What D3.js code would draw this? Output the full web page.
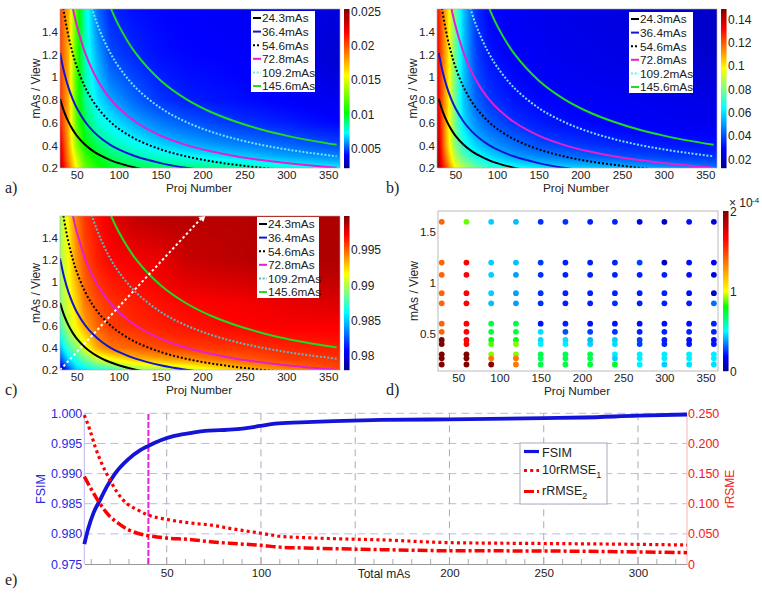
<!DOCTYPE html>
<html><head><meta charset="utf-8">
<script src="https://cdn.jsdelivr.net/npm/d3@7/dist/d3.min.js"></script>
<style>
html,body{margin:0;padding:0;background:#fff}
svg{display:block}
text{font-family:"Liberation Sans",Arial,sans-serif;fill:#222}
</style></head><body><svg id="c" width="762" height="594"></svg>
<script>
// ---------- data ----------
const fieldProj=[30,40,50,60,75,90,120,150,180,240,300,360];
const fieldView=[0.2,0.3,0.4,0.6,0.8,1.2,1.6];
const fieldA=[
[.0240,.0195,.0155,.0125,.0108,.0100,.0094,.0092,.0090,.0085,.0078,.0072],
[.0235,.0185,.0145,.0115,.0100,.0092,.0084,.0078,.0074,.0068,.0062,.0058],
[.0230,.0180,.0130,.0105,.0092,.0084,.0075,.0068,.0064,.0058,.0054,.0050],
[.0215,.0175,.0120,.0095,.0078,.0072,.0062,.0056,.0052,.0047,.0044,.0041],
[.0210,.0175,.0115,.0085,.0070,.0062,.0053,.0047,.0044,.0042,.0040,.0038],
[.0205,.0175,.0115,.0080,.0062,.0050,.0045,.0042,.0041,.0040,.0038,.0033],
[.0205,.0175,.0115,.0080,.0054,.0045,.0042,.0041,.0040,.0039,.0037,.0035]];
const fieldB=[
[.144,.120,.098,.088,.078,.072,.066,.062,.060,.056,.051,.046],
[.142,.112,.088,.076,.066,.060,.052,.048,.045,.041,.038,.036],
[.140,.106,.082,.068,.058,.052,.045,.040,.038,.035,.033,.032],
[.136,.105,.078,.060,.048,.042,.036,.033,.031,.029,.028,.027],
[.132,.105,.078,.056,.043,.037,.032,.030,.029,.028,.027,.026],
[.130,.105,.078,.056,.038,.032,.029,.028,.027,.026,.024,.022],
[.128,.105,.078,.056,.036,.030,.028,.027,.026,.025,.023,.021]];
const fieldC=[
[.9785,.982,.985,.9855,.9865,.987,.989,.9895,.990,.9925,.994,.9955],
[.982,.9855,.987,.9885,.9905,.9915,.993,.9935,.994,.995,.9958,.996],
[.9845,.9875,.989,.991,.9935,.9945,.995,.9955,.9958,.996,.9963,.9965],
[.9875,.990,.992,.9935,.995,.9958,.9962,.9965,.9967,.997,.9972,.9972],
[.989,.991,.9925,.9945,.9955,.996,.9965,.9968,.997,.9972,.9975,.9978],
[.9895,.9915,.994,.9955,.9965,.997,.9972,.9975,.9982,.9985,.9988,.9988],
[.9895,.992,.9945,.996,.9968,.9975,.9984,.9986,.9986,.9986,.9988,.9988]];
const isoLabels=["24.3mAs","36.4mAs","54.6mAs","72.8mAs","109.2mAs","145.6mAs"];
const isoProj=[30,35,40,45,50,60,70,80,90,100,120,150,180,210,240,270,300,330,360];
const iso243=[.81,.694,.608,.54,.486,.405,.347,.304,.27,.243,.203,.162,.135,.116,.101,.09,.081,.074,.068];
const iso364=[1.213,1.04,.91,.809,.728,.607,.52,.455,.404,.364,.303,.243,.202,.173,.152,.135,.121,.11,.101];
const iso546=[1.82,1.56,1.365,1.213,1.092,.91,.78,.683,.607,.546,.455,.364,.303,.26,.228,.202,.182,.165,.152];
const iso728=[2.427,2.08,1.82,1.618,1.456,1.213,1.04,.91,.809,.728,.607,.485,.404,.347,.303,.27,.243,.221,.202];
const iso1092=[3.64,3.12,2.73,2.427,2.184,1.82,1.56,1.365,1.213,1.092,.91,.728,.607,.52,.455,.404,.364,.331,.303];
const iso1456=[4.853,4.16,3.64,3.236,2.912,2.427,2.08,1.82,1.618,1.456,1.213,.971,.809,.693,.607,.539,.485,.441,.404];
const diagProj=[30,201], diagView=[0.2,1.6];
const dotProj=[30,60,90,120,150,180,210,240,270,300,330,360];
const dotView=[1.6,1.2,1.08,.9,.8,.6,.52,.44,.4,.3,.26,.2];
const dotVal=[
[1.4,.88,.44,.42,.24,.24,.22,.22,.16,.08,.2,.14],
[1.4,1.66,.44,.42,.25,.22,.22,.22,.26,.08,.2,.15],
[1.4,1.66,.44,.38,.24,.22,.22,.22,.22,.22,.2,.12],
[1.4,1.66,.44,.38,.24,.22,.22,.22,.22,.22,.2,.11],
[1.4,1.66,.42,.38,.24,.22,.22,.24,.22,.22,.22,.32],
[1.4,1.66,.72,.72,.2,.22,.2,.2,.2,.2,.2,.22],
[1.4,1.66,.72,.72,.46,.28,.26,.24,.22,.22,.22,.22],
[2,1.66,.78,.78,.46,.46,.42,.44,.26,.22,.2,.2],
[2,1.66,.86,.9,.48,.48,.44,.46,.26,.22,.2,.2],
[2,2,.9,.9,.72,.7,.72,.48,.48,.48,.48,.48],
[2,2,1.35,1.35,.7,.7,.7,.44,.48,.48,.48,.48],
[2,2,2,1.35,.72,.72,.74,.76,.48,.44,.46,.46]];
const fsimX=[6.3,8.4,11.1,14.6,18.2,22.6,29.7,36,40.3,46.5,53.6,62.4,70.4,78.3,88.9,99.6,107.5,121,138.5,164,200,250,271,300,326];
const fsimY=[.9783,.9809,.9834,.9856,.9878,.99,.9924,.9939,.9946,.9955,.9962,.9967,.9971,.9972,.9974,.9979,.9983,.9985,.9987,.9989,.999,.9992,.9993,.9996,.9998];
const rmseX=[6.3,9.3,12,15.5,20,23.5,29,34.5,40.3,50,61,73,85.5,100,110,124,138.5,164,200,250,300,326];
const rmse1Y=[.247,.222,.195,.167,.139,.12,.1,.09,.081,.074,.0686,.0647,.058,.051,.046,.0437,.042,.04,.0354,.034,.0326,.0315];
const rmse2X=[6.3,9.3,14.6,20,24.4,29,34.5,40.3,50,61,73,85.5,100,110,124,138.5,164,200,250,300,326];
const rmse2Y=[.145,.128,.1,.0785,.0675,.058,.051,.047,.043,.041,.037,.034,.031,.028,.0265,.0254,.0238,.022,.0216,.02,.0188];
const leftTicks=[.975,.98,.985,.99,.995,1];
const rightTicks=[0,.05,.1,.15,.2,.25];
const bottomTicks=[50,100,150,200,250,300];
const bottomLabels=[50,100,200,250,300];
// ---------- helpers ----------
const svg=d3.select("#c");
const jetStops=[[0,"#00008f"],[.125,"#0000ff"],[.375,"#00ffff"],[.625,"#ffff00"],[.875,"#ff0000"],[1,"#800000"]];
const jetA=[[0,"#00008f"],[.08,"#0000ff"],[.22,"#00ffff"],[.35,"#00ff00"],[.58,"#ffff00"],[.85,"#ff0000"],[1,"#800000"]];
const jetD=[[0,"#00008f"],[.09,"#0000ff"],[.25,"#00ffff"],[.4,"#00ff00"],[.5,"#ffff00"],[.83,"#ff0000"],[1,"#800000"]];
const mkCol=(stops,dom)=>d3.scaleLinear().domain(stops.map(d=>dom[0]+d[0]*(dom[1]-dom[0]))).range(stops.map(d=>d[1])).clamp(true);
const isoColors=["#000","#1414d2","#000","#e41fd2","#6fe6f0","#1fdc1f"];
const isoDash=[null,null,"2 2",null,"2 1.7",null];
const isoData=[iso243,iso364,iso546,iso728,iso1092,iso1456];
function panelLetter(t,x,y){svg.append("text").attr("x",x).attr("y",y).style("font-family","'Liberation Serif',serif").style("font-size","16px").text(t);}
function axisStyle(g){g.select(".domain").attr("stroke","#999");g.selectAll("line").attr("stroke","#999");g.selectAll("text").style("font-size","11.6px").attr("fill","#222");}
function heat(opt){
 const {x0,x1,y0,y1,xd,field,stops,dom,cbx,cbw,cbTicks,legend}=opt;
 const xS=d3.scaleLinear().domain(xd).range([x0,x1]);
 const yS=d3.scaleLinear().domain([.2,1.6]).range([y1,y0]);
 const col=mkCol(stops,dom);
 const lx=d3.scaleLinear().domain(fieldProj.map(Math.log)).range(d3.range(fieldProj.length)).clamp(true);
 const ly=d3.scaleLinear().domain(fieldView.map(Math.log)).range(d3.range(fieldView.length)).clamp(true);
 const w=x1-x0,h=y1-y0;
 const cv=document.createElement("canvas");cv.width=w;cv.height=h;const ctx=cv.getContext("2d");
 for(let i=0;i<w;i++)for(let j=0;j<h;j++){
  const p=Math.max(30,xS.invert(x0+i+.5)),v=yS.invert(y0+j+.5);
  const a=lx(Math.log(p)),b=ly(Math.log(v));
  const a0=Math.min(Math.floor(a),fieldProj.length-2),b0=Math.min(Math.floor(b),fieldView.length-2);
  const fa=a-a0,fb=b-b0;
  const val=(1-fb)*((1-fa)*field[b0][a0]+fa*field[b0][a0+1])+fb*((1-fa)*field[b0+1][a0]+fa*field[b0+1][a0+1]);
  ctx.fillStyle=col(val);ctx.fillRect(i,j,1,1);
 }
 svg.append("image").attr("x",x0).attr("y",y0).attr("width",w).attr("height",h).attr("href",cv.toDataURL());
 const id="clip"+x0+y0;
 svg.append("clipPath").attr("id",id).append("rect").attr("x",x0).attr("y",y0).attr("width",w).attr("height",h);
 const line=d3.line().x((d,i)=>xS(isoProj[i])).y(d=>yS(d)).curve(d3.curveCatmullRom);
 const gl=svg.append("g").attr("clip-path",`url(#${id})`);
 const cols=isoColors.map((c,k)=>opt.diag&&k===4?"#58bcc8":c);
 isoData.forEach((arr,k)=>{
  gl.append("path").attr("d",line(arr)).attr("fill","none").attr("stroke",cols[k]).attr("stroke-width",2).attr("stroke-dasharray",isoDash[k]);
 });
 if(opt.diag){
  gl.append("path").attr("d",d3.line().x((d,i)=>xS(diagProj[i])).y(d=>yS(d))(diagView)).attr("fill","none").attr("stroke","#fff").attr("stroke-width",2).attr("stroke-dasharray","2.5 2.5");
  const ex=xS(diagProj[1]),ey=yS(diagView[1]);
  svg.append("path").attr("d",`M${ex+2},${ey} L${ex-5},${ey+1} L${ex},${ey+6} Z`).attr("fill","#fff");
 }
 svg.append("rect").attr("x",x0).attr("y",y0).attr("width",w).attr("height",h).attr("fill","none").attr("stroke","#aaa").attr("stroke-width",.6);
 axes(xS,yS,x0,x1,y0,y1,[.2,.4,.6,.8,1,1.2,1.4]);
 const cb=d3.scaleLinear().domain(dom).range([y1,y0]);
 svg.append("g").selectAll("rect").data(d3.range(y0,y1)).join("rect").attr("x",cbx).attr("y",d=>d).attr("width",cbw).attr("height",1.2).attr("fill",d=>col(cb.invert(d+.5)));
 cbTicks.forEach(t=>svg.append("text").attr("x",cbx+cbw+1.5).attr("y",cb(t)+4.5).style("font-size","12px").text(d3.format("~g")(t)));
 const L=legend;
 svg.append("rect").attr("x",L.x).attr("y",L.y).attr("width",L.w).attr("height",81).attr("fill","#fff");
 isoLabels.forEach((t,k)=>{
  const yy=L.y+7+k*13.6;
  svg.append("line").attr("x1",L.x+2).attr("x2",L.x+10).attr("y1",yy).attr("y2",yy).attr("stroke",cols[k]).attr("stroke-width",2).attr("stroke-dasharray",isoDash[k]);
  svg.append("text").attr("x",L.x+11).attr("y",yy+4.3).style("font-size","11.8px").text(t);
 });
}
function axes(xS,yS,x0,x1,y0,y1,yt){
 const gx=svg.append("g").attr("transform",`translate(0,${y1})`).call(d3.axisBottom(xS).tickValues([50,100,150,200,250,300,350]).tickSize(0).tickPadding(3));
 axisStyle(gx);gx.select(".domain").remove();
 const gy=svg.append("g").attr("transform",`translate(${x0},0)`).call(d3.axisLeft(yS).tickValues(yt).tickFormat(d3.format("~g")).tickSize(0).tickPadding(2));
 axisStyle(gy);gy.select(".domain").remove();
 svg.append("text").attr("x",x0+139).attr("y",y1+24).attr("text-anchor","middle").style("font-size","11.8px").text("Proj Number");
 svg.append("text").attr("transform",`translate(${x0-20},${(y0+y1)/2}) rotate(-90)`).attr("text-anchor","middle").style("font-size","12px").text("mAs / View");
}
// ---------- panels a b c ----------
heat({x0:60,x1:340,y0:9,y1:168,xd:[30,364],field:fieldA,stops:jetA,dom:[.0022,.0253],cbx:344,cbw:5.5,cbTicks:[.005,.01,.015,.02,.025],legend:{x:251,y:11,w:64}});
heat({x0:437,x1:717,y0:9,y1:168,xd:[28,364],field:fieldB,stops:jetStops,dom:[.0126,.1486],cbx:721,cbw:5.5,cbTicks:[.02,.04,.06,.08,.1,.12,.14],legend:{x:629,y:12,w:64}});
heat({x0:60,x1:340,y0:216,y1:370,xd:[30,364],field:fieldC,stops:jetStops,dom:[.978,.9998],cbx:344,cbw:5.5,cbTicks:[.98,.985,.99,.995],legend:{x:257,y:217,w:62},diag:true});
panelLetter("a)",5,193);panelLetter("b)",386,193);panelLetter("c)",5,395);panelLetter("d)",386,395);panelLetter("e)",5,585);
// ---------- panel d ----------
(function(){
 const x0=438,x1=718,y0=211,y1=371;
 const xS=d3.scaleLinear().domain([25.5,365]).range([x0,x1]);
 const yS=d3.scaleLinear().domain([.136,1.706]).range([y1,y0]);
 const col=mkCol(jetD,[0,2]);
 svg.append("rect").attr("x",x0).attr("y",y0).attr("width",x1-x0).attr("height",y1-y0).attr("fill","#fff").attr("stroke","#aaa").attr("stroke-width",.8);
 dotVal.forEach((row,i)=>svg.append("g").selectAll("circle").data(row).join("circle").attr("cx",(v,j)=>xS(dotProj[j])).attr("cy",yS(dotView[i])).attr("r",2.9).attr("fill",v=>col(v)));
 axes(xS,yS,x0,x1,y0,y1,[.5,1,1.5]);
 const cb=d3.scaleLinear().domain([0,2]).range([y1,y0]);
 svg.append("g").selectAll("rect").data(d3.range(y0,y1)).join("rect").attr("x",723).attr("y",d=>d).attr("width",5.5).attr("height",1.2).attr("fill",d=>col(cb.invert(d+.5)));
 [0,1,2].forEach(t=>svg.append("text").attr("x",730).attr("y",cb(t)+4.5).style("font-size","12px").text(t));
 svg.append("text").attr("x",729).attr("y",207).style("font-size","12px").text("× 10");
 svg.append("text").attr("x",752).attr("y",203).style("font-size","8px").text("-4");
})();
// ---------- panel e ----------
(function(){
 const x0=84.3,x1=687,y0=413.3,y1=564;
 const xS=d3.scaleLinear().domain([6.3,326]).range([x0,x1]);
 const yL=d3.scaleLinear().domain([.975,1]).range([y1,y0]);
 const yR=d3.scaleLinear().domain([0,.25]).range([y1,y0]);
 leftTicks.slice(1).forEach(t=>svg.append("line").attr("x1",x0).attr("x2",x1).attr("y1",yL(t)).attr("y2",yL(t)).attr("stroke","#b9b9ee").attr("stroke-dasharray","8 5"));
 bottomTicks.forEach(t=>svg.append("line").attr("x1",xS(t)).attr("x2",xS(t)).attr("y1",y0).attr("y2",y1).attr("stroke","#aab").attr("stroke-dasharray","7 5"));
 const gb=svg.append("g").attr("transform",`translate(0,${y1})`).call(d3.axisBottom(xS).tickValues(bottomLabels).tickSize(0).tickPadding(5));
 axisStyle(gb);
 d3.range(10,326,10).forEach(t=>svg.append("line").attr("x1",xS(t)).attr("x2",xS(t)).attr("y1",y1).attr("y2",y1-(t%50?5:7)).attr("stroke","#aaa"));
 svg.append("line").attr("x1",x0).attr("x2",x0).attr("y1",y0).attr("y2",y1).attr("stroke","#b9b9ee");
 svg.append("line").attr("x1",x1).attr("x2",x1).attr("y1",y0).attr("y2",y1).attr("stroke","#f5b5b5");
 leftTicks.forEach(t=>svg.append("text").attr("x",x0-2).attr("y",yL(t)+4.5).attr("text-anchor","end").style("font-size","12.5px").style("fill","#2a2ae0").text(d3.format(".3f")(t)));
 rightTicks.forEach(t=>svg.append("text").attr("x",x1+1).attr("y",yR(t)+4.5).style("font-size","12.5px").style("fill","#f01818").text(t===0?"0":d3.format(".3f")(t)));
 svg.append("text").attr("transform",`translate(44.5,489) rotate(-90)`).attr("text-anchor","middle").style("font-size","12.5px").style("fill","#2a2ae0").text("FSIM");
 svg.append("text").attr("transform",`translate(733.5,489) rotate(-90)`).attr("text-anchor","middle").style("font-size","12px").style("fill","#f01818").text("rRSME");
 svg.append("text").attr("x",384).attr("y",578).attr("text-anchor","middle").style("font-size","12px").text("Total mAs");
 svg.append("line").attr("x1",xS(40.3)).attr("x2",xS(40.3)).attr("y1",414).attr("y2",y1).attr("stroke","#e81fe0").attr("stroke-width",2).attr("stroke-dasharray","6 2");
 const lf=d3.line().x((d,i)=>xS(fsimX[i])).y(d=>yL(d)).curve(d3.curveMonotoneX);
 svg.append("path").attr("d",lf(fsimY)).attr("fill","none").attr("stroke","#1414d8").attr("stroke-width",3.8);
 const l1=d3.line().x((d,i)=>xS(rmseX[i])).y(d=>yR(d)).curve(d3.curveMonotoneX);
 svg.append("path").attr("d",l1(rmse1Y)).attr("fill","none").attr("stroke","#f00").attr("stroke-width",3.2).attr("stroke-dasharray","3 3.2");
 const l2=d3.line().x((d,i)=>xS(rmse2X[i])).y(d=>yR(d)).curve(d3.curveMonotoneX);
 svg.append("path").attr("d",l2(rmse2Y)).attr("fill","none").attr("stroke","#f00").attr("stroke-width",3.5).attr("stroke-dasharray","10 3 3 3");
 svg.append("rect").attr("x",520).attr("y",443).attr("width",87).attr("height",61).attr("fill","#fff").attr("stroke","#aab");
 const items=[["FSIM","",null,"#1414d8",451.5],["10rRMSE","1","3 3.2","#f00",470.5],["rRMSE","2","10 3 3 3","#f00",491.5]];
 items.forEach(d=>{
  svg.append("line").attr("x1",524).attr("x2",539).attr("y1",d[4]).attr("y2",d[4]).attr("stroke",d[3]).attr("stroke-width",3.2).attr("stroke-dasharray",d[2]);
  const t=svg.append("text").attr("x",542).attr("y",d[4]+(d[1]?3:5)).style("font-size","12.5px").text(d[0]);
  if(d[1])t.append("tspan").attr("dy",4).style("font-size","9px").text(d[1]);
 });
})();
</script></body></html>
